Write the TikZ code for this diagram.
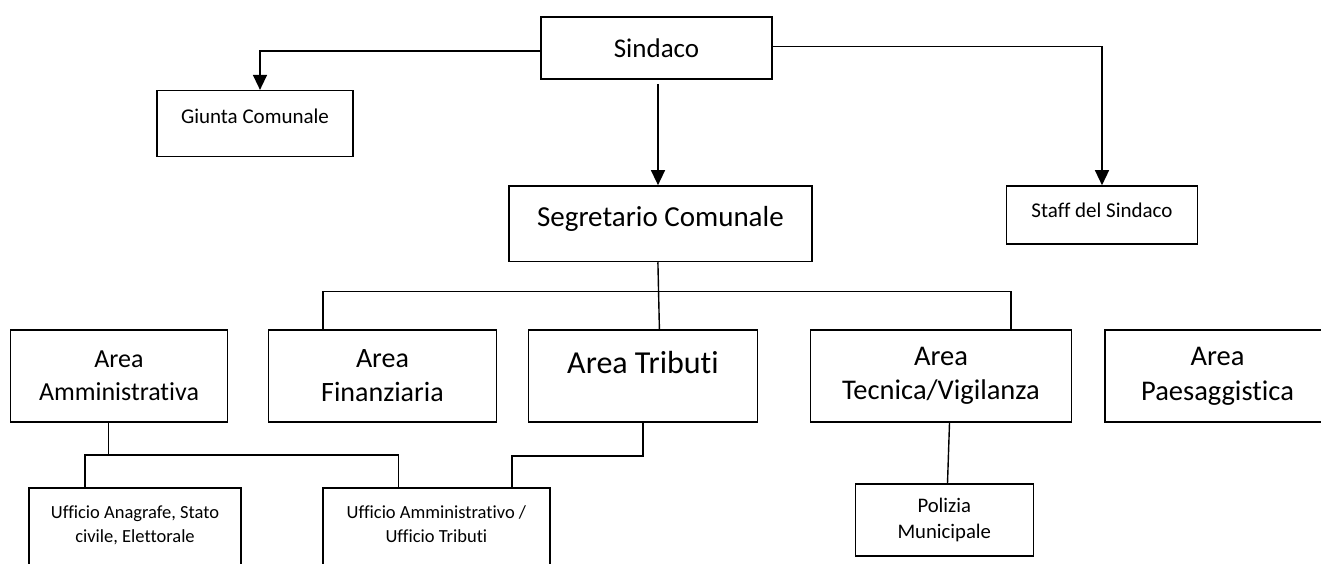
\documentclass[tikz,border=0pt]{standalone}
\usepackage{fontspec}
\setmainfont[Ligatures=NoCommon]{Carlito}
\usetikzlibrary{arrows.meta,positioning}

\begin{document}
\begin{tikzpicture}[x=1pt,y=-1pt,
  box/.style={draw,line width=1.6pt,inner sep=0pt,align=center},
  link/.style={line width=1.4pt},
  arr/.style={link,-{Triangle[length=15pt,width=14pt]}}]
\useasboundingbox (0,0) rectangle (1321,564);
\clip (0,0) rectangle (1321,564);
\node[box,minimum width=231pt,minimum height=62pt,font=\fontsize{27}{32}\selectfont] (sindaco) at (656.5,48) {Sindaco};
\node[box,minimum width=196pt,minimum height=66pt,text height=10pt,text depth=10pt,font=\fontsize{21}{25}\selectfont] (giunta) at (255,123.7) {Giunta Comunale};
\node[box,minimum width=191pt,minimum height=58pt,text height=13pt,text depth=8pt,font=\fontsize{21}{25}\selectfont] (staff) at (1102,215) {Staff del Sindaco};
\node[box,minimum width=303pt,minimum height=75.5pt,text height=20pt,text depth=15pt,font=\fontsize{29}{34}\selectfont] (segr) at (660.4,223.7) {Segretario Comunale};
\node[box,minimum width=217pt,minimum height=92pt,font=\fontsize{26}{33}\selectfont] (aamm) at (119,376) {Area\\Amministrativa};
\node[box,minimum width=228pt,minimum height=92pt,font=\fontsize{28}{34}\selectfont] (afin) at (382.5,376) {Area\\Finanziaria};
\node[box,minimum width=229pt,minimum height=92pt,text height=20pt,text depth=25pt,font=\fontsize{32}{38}\selectfont] (atrib) at (643,376) {Area Tributi};
\node[box,minimum width=261pt,minimum height=92pt,font=\fontsize{28.5}{34}\selectfont] (atec) at (941,376) {Area\\Tecnica/Vigilanza};
\node[box,minimum width=225pt,minimum height=92pt,font=\fontsize{28.5}{35}\selectfont] (apaes) at (1217.5,376) {Area\\Paesaggistica};
\node[box,minimum width=211.5pt,minimum height=100pt,text height=40pt,text depth=30.6pt,font=\fontsize{18.5}{24.7}\selectfont] (uanag) at (135,538) {Ufficio Anagrafe, Stato\\civile, Elettorale};
\node[box,minimum width=227pt,minimum height=100pt,text height=40pt,text depth=30.6pt,font=\fontsize{18.5}{24.7}\selectfont] (uamm) at (436.4,538) {Ufficio Amministrativo /\\Ufficio Tributi};
\node[box,minimum width=178pt,minimum height=72pt,font=\fontsize{20.7}{26}\selectfont] (poliz) at (944.3,520) {Polizia\\Municipale};
\draw[arr] ([yshift=-3pt]sindaco.west) -| ([xshift=5pt]giunta.north);
\draw[arr] ([yshift=1.3pt]sindaco.east) -| (staff.north);
\draw[arr,shorten <=4pt] ([xshift=1.5pt]sindaco.south) -- ([xshift=1.5pt]sindaco.south |- segr.north);
\draw[link] ([xshift=-2.5pt]segr.south) -- ([xshift=-1pt]segr.south |- atrib.north);
\coordinate (busl) at (323,291.7);
\coordinate (busr) at (1011,291.7);
\draw[link] (afin.north -| busl) -- (busl) -- (busr) -- (atec.north -| busr);
\coordinate (ammj) at (108.5,455);
\coordinate (ammjl) at (84.8,455);
\coordinate (ammjr) at (398.7,455);
\draw[link] (aamm.south -| ammj) -- (ammj);
\draw[link] (uanag.north -| ammjl) -- (ammjl) -- (ammjr) -- (uamm.north -| ammjr);
\coordinate (tribj) at (643,456);
\coordinate (tribjl) at (512,456);
\draw[link] (atrib.south -| tribj) -- (tribj) -- (tribjl) -- (uamm.north -| tribjl);
\draw[link] ([xshift=8.5pt]atec.south) -- ([xshift=3.2pt]poliz.north);
\end{tikzpicture}
\end{document}
